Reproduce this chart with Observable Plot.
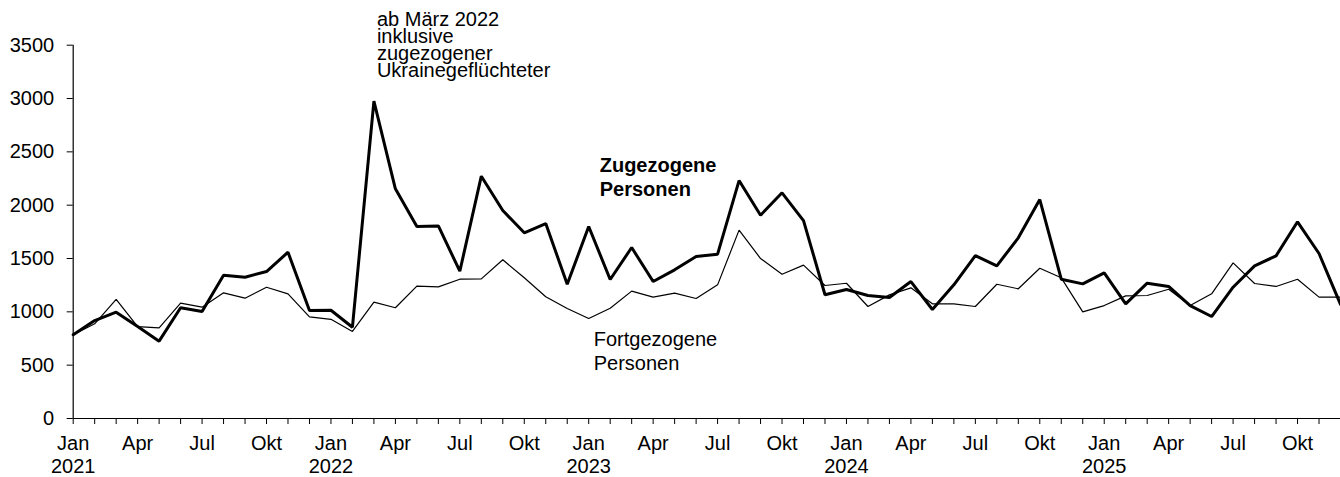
<!DOCTYPE html>
<html>
<head>
<meta charset="utf-8">
<script src="https://cdn.jsdelivr.net/npm/d3@7"></script>
<script src="https://cdn.jsdelivr.net/npm/@observablehq/plot@0.6"></script>
<style>
  html, body { margin: 0; padding: 0; background: #fff; }
  svg { display: block; }
</style>
</head>
<body>
<div id="chart"></div>
<script>
const years = [2021, 2022, 2023, 2024, 2025];
const monthNames = ["Jan","Feb","Mär","Apr","Mai","Jun","Jul","Aug","Sep","Okt","Nov","Dez"];
const shownMonths = ["Jan","Apr","Jul","Okt"];
const yTicks = [0, 500, 1000, 1500, 2000, 2500, 3000, 3500];

const zugezogen = [
  785, 918, 997, 862, 725, 1038, 1003, 1344, 1325, 1378, 1559, 1012,
  1015, 856, 2975, 2153, 1800, 1806, 1381, 2272, 1950, 1741, 1828, 1259,
  1800, 1303, 1603, 1284, 1394, 1519, 1541, 2231, 1906, 2116, 1856, 1160,
  1209, 1153, 1134, 1284, 1022, 1253, 1528, 1431, 1694, 2053, 1306, 1262,
  1366, 1075, 1269, 1238, 1059, 956, 1231, 1431, 1525, 1844, 1547, 1070
];
const fortgezogen = [
  785, 888, 1116, 862, 850, 1081, 1044, 1178, 1128, 1231, 1169, 953,
  930, 816, 1091, 1038, 1241, 1234, 1306, 1309, 1488, 1319, 1141, 1031,
  938, 1034, 1194, 1138, 1175, 1125, 1253, 1766, 1500, 1353, 1438, 1247,
  1268, 1050, 1159, 1225, 1075, 1075, 1050, 1259, 1216, 1409, 1319, 1000,
  1059, 1150, 1153, 1212, 1059, 1169, 1459, 1266, 1238, 1306, 1138, 1138
];

const annoText = [
  "ab März 2022\ninklusive\nzugezogener\nUkrainegeflüchteter",
  "Zugezogene\nPersonen",
  "Fortgezogene\nPersonen"
];
const annoMonth = ["2022-03", "2023-01", "2023-01"];
const annoValue = [3200, 2090, 459];

const keys = [];
years.forEach(y => monthNames.forEach((m, i) => keys.push(`${y}-${String(i + 1).padStart(2, "0")}`)));
const idx = d3.range(keys.length);
const data = keys.map((k, i) => ({i, key: k, zu: zugezogen[i], fort: fortgezogen[i]}));
const annos = annoText.map((t, i) => ({text: t, i: keys.indexOf(annoMonth[i]), v: annoValue[i]}));

function fmtX(i) {
  const k = keys[i];
  if (!k) return "";
  const y = k.slice(0, 4);
  const m = monthNames[+k.slice(5) - 1];
  if (!shownMonths.includes(m)) return "";
  return m === "Jan" ? `${m}\n${y}` : m;
}

const font = "'Liberation Sans', Arial, Helvetica, sans-serif";

const chart = Plot.plot({
  width: 1340,
  height: 477,
  marginLeft: 72.7,
  marginRight: 0,
  marginTop: 44.7,
  marginBottom: 59,
  style: {fontFamily: font, fontSize: "20px", color: "#000", background: "#fff", overflow: "visible"},
  x: {type: "linear", domain: [0, keys.length - 1]},
  y: {domain: [0, 3500]},
  marks: [
    Plot.axisY({ticks: yTicks, tickSize: 6, tickPadding: 13, fontSize: 20, label: null, tickFormat: d => String(d), strokeWidth: 1}),
    Plot.axisX({ticks: idx, tickSize: 6, tickPadding: 9, fontSize: 20, lineHeight: 1.165, label: null, tickFormat: fmtX, strokeWidth: 1}),
    Plot.ruleY([0], {stroke: "#000", strokeWidth: 1.2}),
    Plot.ruleX([0], {stroke: "#000", strokeWidth: 1.2}),
    Plot.line(data, {x: "i", y: "fort", stroke: "#000", strokeWidth: 1.2, strokeLinejoin: "miter"}),
    Plot.line(data, {x: "i", y: "zu", stroke: "#000", strokeWidth: 3, strokeLinejoin: "miter"}),
    Plot.text([annos[0]], {x: "i", y: "v", text: "text", textAnchor: "start", lineAnchor: "bottom", dx: 3, fontSize: 20, lineHeight: 0.85, fill: "#000"}),
    Plot.text([annos[1]], {x: "i", y: "v", text: "text", textAnchor: "start", lineAnchor: "bottom", dx: 11, fontSize: 20, fontWeight: "bold", lineHeight: 1.2, fill: "#000"}),
    Plot.text([annos[2]], {x: "i", y: "v", text: "text", textAnchor: "start", lineAnchor: "bottom", dx: 5, fontSize: 20, lineHeight: 1.18, fill: "#000"})
  ]
});
document.getElementById("chart").appendChild(chart);
</script>
</body>
</html>
